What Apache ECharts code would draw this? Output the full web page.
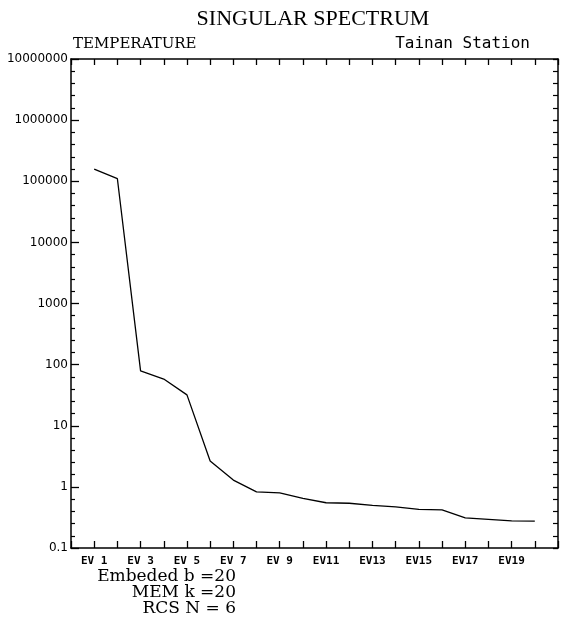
<!DOCTYPE html>
<html>
<head>
<meta charset="utf-8">
<script src="https://cdn.jsdelivr.net/npm/echarts@6/dist/echarts.min.js"></script>
<style>html,body{margin:0;padding:0;background:#fff;}#c{width:561px;height:618px;}</style>
</head>
<body>
<div id="c"></div>
<script>
// ---- data ----
const evIndex = [1,2,3,4,5,6,7,8,9,10,11,12,13,14,15,16,17,18,19,20];
const eigenValues = [158000,110000,79,58,32,2.65,1.29,0.83,0.80,0.65,0.55,0.54,0.50,0.47,0.43,0.42,0.31,0.295,0.277,0.275];
const xTickLabels = {1:'EV 1',3:'EV 3',5:'EV 5',7:'EV 7',9:'EV 9',11:'EV11',13:'EV13',15:'EV15',17:'EV17',19:'EV19'};
const yTickLabels = {'-1':'0.1','0':'1','1':'10','2':'100','3':'1000','4':'10000','5':'100000','6':'1000000','7':'10000000'};
const titleText = 'SINGULAR SPECTRUM';
const leftSub = 'TEMPERATURE';
const rightSub = 'Tainan Station';
const notes = ['Embeded b =20', 'MEM k =20', 'RCS N = 6'];

const chart = echarts.init(document.getElementById('c'), null, {renderer:'canvas'});
const seriesData = evIndex.map((x,i)=>[x, eigenValues[i]]);
const lineStyleAxis = {color:'#000', width:1.5};

// decade-exponent overlay axes (ticks only, evenly spaced in log space like the original)
const decadeAxis = (pos, len, minorLen) => ({
  type:'value', min:-1, max:7, interval:1, position:pos,
  axisLine:{show:false, onZero:false},
  axisTick:{show:true, inside:true, length:len, lineStyle:{color:'#000', width:1.3}},
  minorTick:{show:true, splitNumber:5, length:minorLen, lineStyle:{color:'#000', width:1.2}},
  splitLine:{show:false}, minorSplitLine:{show:false},
  axisLabel:{show:false}
});

chart.setOption({
  animation:false,
  backgroundColor:'#fff',
  grid:{left:71, right:2, top:59, bottom:70},
  xAxis:[{
    type:'value', min:0, max:21, interval:1, position:'bottom',
    axisLine:{show:true, onZero:false, lineStyle:lineStyleAxis},
    axisTick:{show:true, inside:true, length:7, lineStyle:{color:'#000', width:1.3}},
    splitLine:{show:false},
    axisLabel:{
      margin:8, color:'#000', fontFamily:'DejaVu Sans Mono', fontSize:11, fontWeight:'bold',
      formatter:(v)=> xTickLabels[Math.round(v)] && Math.abs(v-Math.round(v))<1e-6 ? xTickLabels[Math.round(v)] : ''
    }
  },{
    type:'value', min:0, max:21, interval:1, position:'top',
    axisLine:{show:true, onZero:false, lineStyle:lineStyleAxis},
    axisTick:{show:true, inside:true, length:6, lineStyle:{color:'#000', width:1.3}},
    splitLine:{show:false},
    axisLabel:{show:false}
  }],
  yAxis:[{
    type:'log', logBase:10, min:0.1, max:10000000, position:'left',
    axisLine:{show:true, onZero:false, lineStyle:lineStyleAxis},
    axisTick:{show:false},
    minorTick:{show:false},
    splitLine:{show:false},
    minorSplitLine:{show:false},
    axisLabel:{
      margin:3, color:'#000', fontFamily:'DejaVu Sans', fontSize:12,
      formatter:(v)=>{ const k = String(Math.round(Math.log10(v))); return yTickLabels[k] || ''; }
    }
  },{
    type:'log', logBase:10, min:0.1, max:10000000, position:'right',
    axisLine:{show:true, onZero:false, lineStyle:lineStyleAxis},
    axisTick:{show:false},
    minorTick:{show:false},
    splitLine:{show:false},
    axisLabel:{show:false}
  },
  decadeAxis('left', 8, 4),
  decadeAxis('right', 5, 5)
  ],
  series:[{
    type:'line', xAxisIndex:0, yAxisIndex:0,
    data:seriesData, showSymbol:false, symbol:'none',
    lineStyle:{color:'#000', width:1.3}
  }],
  graphic:[
    {type:'text', x:313, y:19, style:{text:titleText, font:'22px "Liberation Serif"', fill:'#000', textAlign:'center', textVerticalAlign:'middle'}},
    {type:'text', x:73, y:44, style:{text:leftSub, font:'15px "DejaVu Serif"', fill:'#000', textAlign:'left', textVerticalAlign:'middle'}},
    {type:'text', x:530, y:44, style:{text:rightSub, font:'16px "DejaVu Sans Mono"', fill:'#000', textAlign:'right', textVerticalAlign:'middle'}},
    {type:'text', x:236, y:577, style:{text:notes[0], font:'17px "DejaVu Serif"', fill:'#000', textAlign:'right', textVerticalAlign:'middle'}},
    {type:'text', x:236, y:593, style:{text:notes[1], font:'17px "DejaVu Serif"', fill:'#000', textAlign:'right', textVerticalAlign:'middle'}},
    {type:'text', x:236, y:609, style:{text:notes[2], font:'17px "DejaVu Serif"', fill:'#000', textAlign:'right', textVerticalAlign:'middle'}}
  ]
});
</script>
</body>
</html>
